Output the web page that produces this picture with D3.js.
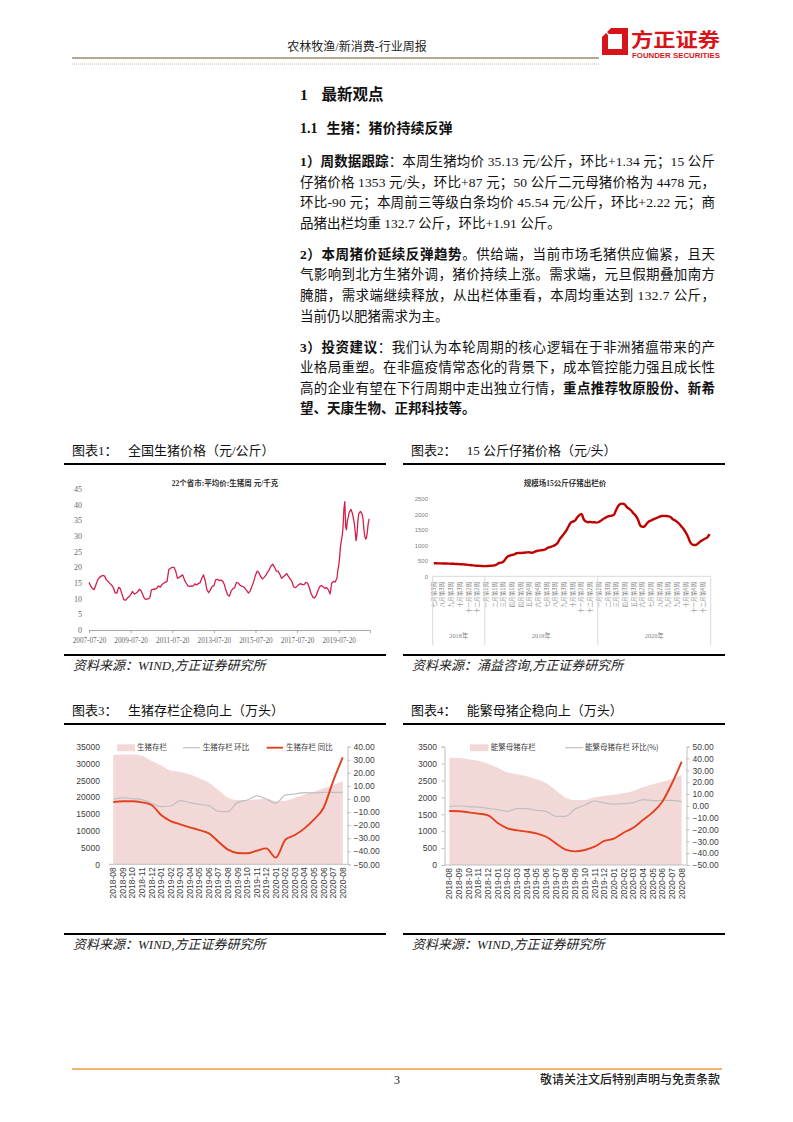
<!DOCTYPE html>
<html><head><meta charset="utf-8">
<script src="https://cdn.jsdelivr.net/npm/d3@7"></script>
<style>
body{margin:0;background:#fff}
svg{display:block}
</style></head><body>
<svg id="page" width="793" height="1122"></svg>
<script>
// ---------------- DATA ----------------
// Chart 1: 22个省市 平均价 生猪 (monthly 2007-07 .. 2019-06)
const c1Start = "2007-07-20";
const c1Monthly = [
15.2,14.0,13.2,12.9,14.5,16.0,
16.8,17.2,17.4,17.2,16.0,15.5,14.9,14.3,13.5,11.9,11.7,13.6,
13.2,11.3,9.7,9.5,10.1,10.6,11.2,12.3,11.5,11.7,12.2,13.0,
12.5,11.2,10.0,9.8,9.9,10.2,12.8,13.0,13.0,13.3,14.1,13.6,
14.5,14.9,15.3,15.5,19.2,19.7,20.0,20.0,18.7,16.5,16.8,17.2,
17.6,16.0,15.0,14.1,13.9,14.1,14.0,14.7,14.4,14.8,15.1,16.5,
17.6,15.5,12.8,11.9,12.8,13.9,14.1,16.0,16.2,15.8,15.9,15.6,
14.5,12.5,11.2,10.8,12.5,13.2,13.5,15.2,15.0,14.3,14.0,13.8,
13.3,12.5,11.8,12.5,14.0,15.5,17.5,18.8,18.3,17.0,16.3,16.8,
17.5,18.5,19.3,20.5,21.0,20.0,18.8,18.8,17.8,16.5,17.0,17.5,
18.0,17.0,16.3,15.5,13.8,13.5,14.0,14.5,14.8,14.5,14.5,15.2,
15.0,13.5,11.8,10.5,10.2,11.0,12.5,13.8,14.2,13.8,13.3,13.5,
12.8,11.5,15.0,15.5,15.3,16.5
];
// semi-monthly tail from 2019-07-05 (days 5 and 20)
const c1TailStart = "2019-07";
const c1Tail = [
19.0,20.5,23.0,26.5,28.5,30.0,33.0,38.5,41.0,33.0,32.0,35.0,
36.0,37.5,38.0,38.5,37.8,37.0,35.5,34.0,31.5,28.5,30.5,34.5,
37.0,37.5,37.8,37.5,36.8,35.5,32.0,30.0,29.0,29.5,31.5,34.0,
35.5
];
const c1XTicks = ["2007-07-20","2009-07-20","2011-07-20","2013-07-20","2015-07-20","2017-07-20","2019-07-20"];
const c1YTicks = [0,5,10,15,20,25,30,35,40,45];

// Chart 2: 规模场15公斤仔猪出栏价 (weekly)
const c2Values = [
420,420,418,418,415,415,412,410,408,405,
400,396,392,388,382,377,370,362,352,346,
342,338,333,330,330,334,340,346,355,380,
430,440,470,560,640,665,690,705,745,752,
755,760,765,775,778,760,780,810,828,840,
848,860,900,935,955,980,1020,1080,1200,1290,
1380,1480,1610,1730,1770,1800,1900,1980,2020,1850,
1770,1750,1760,1745,1750,1735,1755,1800,1855,1890,
1930,1950,1960,2000,2150,2280,2340,2350,2320,2230,
2180,2120,2030,1960,1840,1650,1600,1610,1700,1770,
1800,1840,1870,1900,1930,1950,1955,1950,1940,1915,
1850,1810,1760,1700,1610,1530,1420,1290,1110,1030,
1010,1025,1080,1140,1180,1220,1260,1360
];
const c2WeekLabels = [
'七月第3周','八月第3周','九月第3周','十月第3周','十一月第2周','十二月第2周',
'一月第1周','二月第1周','三月第1周','四月第1周','四月第5周','五月第4周','六月第4周','七月第3周','八月第3周','九月第3周','十月第3周','十一月第2周','十二月第2周',
'一月第2周','二月第3周','三月第3周','四月第3周','五月第3周','六月第2周','七月第2周','八月第2周','九月第1周','九月第5周','十月第4周','十一月第4周','十二月第4周'
];
const c2YearNames = ['2018年','2019年','2020年'];
const c2YearWeeks = [24,52,52];
const c2YTicks = [0,500,1000,1500,2000,2500];

// Chart 3: 生猪存栏
const c3Months = ['2018-08','2018-09','2018-10','2018-11','2018-12','2019-01','2019-02','2019-03','2019-04','2019-05','2019-06','2019-07','2019-08','2019-09','2019-10','2019-11','2019-12','2020-01','2020-02','2020-03','2020-04','2020-05','2020-06','2020-07','2020-08'];
const c3Stock = [32500,32700,32700,32300,30800,29500,27900,27500,26800,25600,24300,22100,19800,19100,19100,19300,19600,18800,18900,19800,20800,21600,22600,23600,24800];
const c3Mom = [-0.3,1.0,0.2,-0.5,-3.3,-5.9,-5.4,-1.3,-2.8,-4.1,-5.1,-9.5,-9.7,-2.6,-0.8,2.3,0.0,-3.3,3.0,3.8,4.8,4.6,5.1,5.1,5.1];
const c3Yoy = [-2.3,-1.8,-1.8,-2.6,-4.6,-12.3,-16.9,-19.4,-21.7,-23.8,-26.3,-32.7,-38.8,-41.3,-41.6,-39.6,-37.8,-44.9,-31.2,-27.6,-22.5,-15.6,-6.7,13.7,31.8];
const c3LeftTicks = [0,5000,10000,15000,20000,25000,30000,35000];
const c3RightTicks = [-50,-40,-30,-20,-10,0,10,20,30,40];

// Chart 4: 能繁母猪存栏
const c4Months = c3Months;
const c4Stock = [3175,3165,3125,3086,2997,2879,2741,2682,2623,2534,2415,2208,1992,1923,1923,2001,2051,2080,2120,2189,2297,2386,2465,2544,2662];
const c4Mom = [-0.7,0.1,-0.7,-1.0,-2.1,-3.2,-4.6,-2.4,-2.4,-3.8,-4.6,-8.9,-8.9,-2.7,0.7,4.1,2.4,1.5,1.8,2.7,5.2,4.4,4.6,4.6,3.5];
const c4Yoy = [-4.4,-4.6,-5.5,-6.6,-8.0,-14.5,-19.0,-20.7,-21.8,-23.2,-26.1,-31.7,-37.0,-38.5,-37.3,-34.5,-29.7,-27.7,-22.7,-18.5,-12.0,-5.5,3.5,19.0,37.3];
const c4LeftTicks = [0,500,1000,1500,2000,2500,3000,3500];
const c4RightTicks = [-50,-40,-30,-20,-10,0,10,20,30,40,50];

// ---------------- PAGE ----------------
const SERIF = '"Liberation Serif","Noto Sans CJK SC",serif';
const SANS = '"Liberation Sans","Noto Sans CJK SC",sans-serif';
const CJK = '"Noto Sans CJK SC",sans-serif';
const svg = d3.select('#page');
svg.append('rect').attr('width',793).attr('height',1122).attr('fill','#fff');

// header
svg.append('text').attr('x',357).attr('y',51).attr('text-anchor','middle')
  .style('font-family',SERIF).style('font-size','12px').attr('fill','#222').text('农林牧渔/新消费-行业周报');
svg.append('line').attr('x1',72).attr('x2',599).attr('y1',58).attr('y2',58).attr('stroke','#9c8b68').attr('stroke-width',1.6);
svg.append('line').attr('x1',72).attr('x2',599).attr('y1',64).attr('y2',64).attr('stroke','#bdb6a6').attr('stroke-width',1).attr('stroke-dasharray','1,1');
// logo
svg.append('path').attr('fill','#d7141a').attr('fill-rule','evenodd')
  .attr('d','M611,28 L628,28 L628,55 L602,55 L602,37 Z M608,34 L622,34 L622,49 L608,49 Z');
svg.append('line').attr('x1',603).attr('y1',29).attr('x2',611).attr('y2',37).attr('stroke','#fff').attr('stroke-width',1.5);
svg.append('text').attr('x',631).attr('y',46.5).attr('textLength',89).attr('lengthAdjust','spacingAndGlyphs')
  .style('font-family',CJK).style('font-size','19.5px').style('font-weight','bold').attr('fill','#d7141a').text('方正证券');
svg.append('text').attr('x',632).attr('y',57.5).attr('textLength',88).attr('lengthAdjust','spacingAndGlyphs')
  .style('font-family',SANS).style('font-size','6.5px').style('font-weight','bold').attr('fill','#d7141a').text('FOUNDER SECURITIES');

// headings
function segText(x,y,segs,size,len){
  const t = svg.append('text').attr('x',x).attr('y',y).style('font-family',SERIF).style('font-size',size+'px').attr('fill','#111');
  if(len){ t.attr('textLength',len).attr('lengthAdjust','spacing'); }
  segs.forEach(s=>{ t.append('tspan').style('font-weight',s[1]?'bold':'normal').text(s[0]); });
  return t;
}
segText(300,99.5,[['1',1]],15.5);
svg.append('text').attr('x',321.5).attr('y',99.5).style('font-family',CJK).style('font-size','15.5px').style('font-weight','bold').attr('fill','#111').text('最新观点');
segText(300,133,[['1.1',1]],14);
svg.append('text').attr('x',326.5).attr('y',133).style('font-family',CJK).style('font-size','14px').style('font-weight','bold').attr('fill','#111').text('生猪：猪价持续反弹');

const bodyLines = [
 [166,1,[['1）周数据跟踪',1],['：本周生猪均价 35.13 元/公斤，环比+1.34 元；15 公斤',0]]],
 [186.7,1,[['仔猪价格 1353 元/头，环比+87 元；50 公斤二元母猪价格为 4478 元，',0]]],
 [207.3,1,[['环比-90 元；本周前三等级白条均价 45.54 元/公斤，环比+2.22 元；商',0]]],
 [228,0,[['品猪出栏均重 132.7 公斤，环比+1.91 公斤。',0]]],
 [258.5,1,[['2）本周猪价延续反弹趋势',1],['。供给端，当前市场毛猪供应偏紧，且天',0]]],
 [279.3,1,[['气影响到北方生猪外调，猪价持续上涨。需求端，元旦假期叠加南方',0]]],
 [300,1,[['腌腊，需求端继续释放，从出栏体重看，本周均重达到 132.7 公斤，',0]]],
 [321,0,[['当前仍以肥猪需求为主。',0]]],
 [351.5,1,[['3）投资建议',1],['：我们认为本轮周期的核心逻辑在于非洲猪瘟带来的产',0]]],
 [372,1,[['业格局重塑。在非瘟疫情常态化的背景下，成本管控能力强且成长性',0]]],
 [392.5,1,[['高的企业有望在下行周期中走出独立行情，',0],['重点推荐牧原股份、新希',1]]],
 [413,0,[['望、天康生物、正邦科技等。',1]]]
];
bodyLines.forEach(l=>segText(300,l[0],l[2],13.5,l[1]?415:null));

// chart frames
function frame(x0,x1,yTitle,yTop,yBot,ySrc,num,title,titleX,src){
  svg.append('text').attr('x',x0+8).attr('y',yTitle+4.5).style('font-family',SERIF).style('font-size','13px').attr('fill','#111').text('图表'+num+'：');
  svg.append('text').attr('x',titleX).attr('y',yTitle+4.5).style('font-family',SERIF).style('font-size','13px').attr('fill','#111').text(title);
  svg.append('line').attr('x1',x0).attr('x2',x1).attr('y1',yTop).attr('y2',yTop).attr('stroke','#000').attr('stroke-width',2);
  svg.append('line').attr('x1',x0).attr('x2',x1).attr('y1',yBot).attr('y2',yBot).attr('stroke','#000').attr('stroke-width',2);
  svg.append('text').attr('x',x0+9).attr('y',ySrc+4.5).style('font-family',SERIF).style('font-size','13px').style('font-style','italic').attr('fill','#222').text(src);
}
frame(64,386,450,464,655,665,1,'全国生猪价格（元/公斤）',128,'资料来源：WIND,方正证券研究所');
frame(403,725,450,464,655,665,2,'15 公斤仔猪价格（元/头）',466.7,'资料来源：涌益咨询,方正证券研究所');
frame(64,386,710,724,934,944,3,'生猪存栏企稳向上（万头）',128,'资料来源：WIND,方正证券研究所');
frame(403,725,710,724,934,944,4,'能繁母猪企稳向上（万头）',466.7,'资料来源：WIND,方正证券研究所');

// ---------------- CHART 1 ----------------
(function(){
  const g = svg.append('g');
  const parse = d3.timeParse('%Y-%m-%d');
  const x = d3.scaleTime().domain([parse('2007-07-20'), parse('2021-01-20')]).range([89,370]);
  const y = d3.scaleLinear().domain([0,45]).range([630,489]);
  const s0 = parse(c1Start);
  const pts = c1Monthly.map((v,i)=>({d:d3.timeMonth.offset(s0,i), v}));
  const t0 = d3.timeParse('%Y-%m')(c1TailStart);
  c1Tail.forEach((v,i)=>{ const m = d3.timeMonth.offset(t0, Math.floor(i/2)); pts.push({d:new Date(m.getFullYear(), m.getMonth(), i%2?20:5), v}); });
  g.append('text').attr('x',225).attr('y',485.5).attr('text-anchor','middle').style('font-family',SERIF).style('font-size','7.5px').style('font-weight','bold').attr('fill','#333').text('22个省市:平均价:生猪周 元/千克');
  const ya = g.append('g').attr('transform','translate(89,0)').call(d3.axisLeft(y).tickValues(c1YTicks).tickFormat(d3.format('d')).tickSize(0).tickPadding(7));
  ya.select('.domain').remove();
  ya.selectAll('text').style('font-family',SERIF).style('font-size','8px').attr('fill','#666');
  const xa = g.append('g').attr('transform','translate(0,630)').call(d3.axisBottom(x).tickValues(c1XTicks.map(parse)).tickFormat(d3.timeFormat('%Y-%m-%d')).tickSize(3).tickPadding(5));
  xa.select('.domain').attr('stroke','#a6a6a6');
  xa.selectAll('.tick line').attr('stroke','#a6a6a6');
  xa.selectAll('text').style('font-family',SERIF).style('font-size','7.2px').attr('fill','#666');
  g.append('path').datum(pts).attr('fill','none').attr('stroke','#d41f4a').attr('stroke-width',1.3).attr('stroke-linejoin','round')
    .attr('d', d3.line().x(d=>x(d.d)).y(d=>y(d.v)));
})();

// ---------------- CHART 2 ----------------
(function(){
  const g = svg.append('g');
  const x = d3.scaleBand().domain(d3.range(c2Values.length)).range([432.7,710.7]);
  const y = d3.scaleLinear().domain([0,2500]).range([576.3,499]);
  g.append('text').attr('x',565).attr('y',485.5).attr('text-anchor','middle').style('font-family',SERIF).style('font-size','7.5px').style('font-weight','bold').attr('fill','#333').text('规模场15公斤仔猪出栏价');
  const ya = g.append('g').attr('transform','translate(428,0)').call(d3.axisLeft(y).tickValues(c2YTicks).tickFormat(d3.format('d')).tickSize(0).tickPadding(0));
  ya.select('.domain').remove();
  ya.selectAll('text').style('font-family',SANS).style('font-size','6px').attr('fill','#7f7f7f');
  g.append('line').attr('x1',432.7).attr('x2',710.7).attr('y1',y(0)).attr('y2',y(0)).attr('stroke','#d9d9d9');
  // week labels
  c2WeekLabels.forEach((lab,k)=>{
    const cx = x(k*4)+x.bandwidth()/2;
    g.append('text').attr('transform',`translate(${cx},582) rotate(-90)`).attr('text-anchor','end').attr('dy','0.35em')
      .style('font-family',CJK).style('font-size','5.6px').attr('fill','#7f7f7f').text(lab);
  });
  // year groups
  let acc = 0;
  const edges = [x(0)];
  c2YearNames.forEach((nm,i)=>{
    const a = x(acc); acc += c2YearWeeks[i];
    const b = acc < c2Values.length ? x(acc) : x(c2Values.length-1)+x.bandwidth();
    edges.push(b);
    g.append('text').attr('x',(a+b)/2).attr('y',638).attr('text-anchor','middle')
      .style('font-family',SERIF).style('font-size','6.3px').attr('fill','#7f7f7f').text(nm);
  });
  edges.forEach(e=>g.append('line').attr('x1',e).attr('x2',e).attr('y1',y(0)).attr('y2',645).attr('stroke','#d9d9d9'));
  g.append('path').datum(c2Values).attr('fill','none').attr('stroke','#c00000').attr('stroke-width',2.4).attr('stroke-linejoin','round')
    .attr('d', d3.line().x((d,i)=>x(i)+x.bandwidth()/2).y(d=>y(d)).curve(d3.curveMonotoneX));
})();

// ---------------- CHARTS 3 & 4 ----------------
function dualChart(o){
  const g = svg.append('g');
  const x = d3.scaleBand().domain(o.months).range([o.x0,o.x1]);
  const cx = m => x(m)+x.bandwidth()/2;
  const yL = d3.scaleLinear().domain(o.lDom).range([o.yBot,o.yTop]);
  const yR = d3.scaleLinear().domain(o.rDom).range([o.yBot,o.yTop]);
  // area
  g.append('path').datum(o.stock).attr('fill','#f2d9d8')
    .attr('d', d3.area().x((d,i)=>cx(o.months[i])).y0(yL(0)).y1(d=>yL(d)).curve(d3.curveMonotoneX));
  // axes
  const la = g.append('g').attr('transform',`translate(${o.x0},0)`).call(d3.axisLeft(yL).tickValues(o.lTicks).tickFormat(d3.format('d')).tickSize(o.leftLine?3:0).tickPadding(o.leftPad));
  if(o.leftLine){ la.select('.domain').attr('stroke','#bfbfbf'); la.selectAll('.tick line').attr('stroke','#bfbfbf'); }
  else la.select('.domain').remove();
  la.selectAll('text').style('font-family',SANS).style('font-size','8.5px').attr('fill','#404040');
  const ra = g.append('g').attr('transform',`translate(${o.x1},0)`).call(d3.axisRight(yR).tickValues(o.rTicks).tickSize(3).tickPadding(3).tickFormat(d3.format('.2f')));
  ra.select('.domain').attr('stroke','#bfbfbf');
  ra.selectAll('.tick line').attr('stroke','#bfbfbf');
  ra.selectAll('text').style('font-family',SANS).style('font-size','8.5px').attr('fill','#404040');
  g.append('line').attr('x1',o.x0).attr('x2',o.x1).attr('y1',o.yBot).attr('y2',o.yBot).attr('stroke','#bfbfbf');
  o.months.forEach(m=>{
    g.append('text').attr('transform',`translate(${cx(m)},${o.yBot+3}) rotate(-90)`).attr('text-anchor','end').attr('dy','0.35em')
      .style('font-family',SANS).style('font-size','8.5px').attr('fill','#404040').text(m);
  });
  // lines
  const ln = d3.line().x((d,i)=>cx(o.months[i])).y(d=>yR(d)).curve(d3.curveMonotoneX);
  g.append('path').datum(o.mom).attr('fill','none').attr('stroke','#bfbfbf').attr('stroke-width',1.2).attr('d',ln);
  g.append('path').datum(o.yoy).attr('fill','none').attr('stroke','#e3401e').attr('stroke-width',1.9).attr('d',ln);
  // legend
  const ly = o.yTop+1;
  o.legend.forEach(L=>{
    if(L.type==='area') g.append('rect').attr('x',L.x).attr('y',ly-3.5).attr('width',L.w).attr('height',7).attr('fill','#f2d9d8');
    else g.append('line').attr('x1',L.x).attr('x2',L.x+L.w).attr('y1',ly).attr('y2',ly).attr('stroke',L.color).attr('stroke-width',L.sw);
    g.append('text').attr('x',L.tx).attr('y',ly).attr('dy','0.35em').style('font-family',CJK).style('font-size','7.5px').attr('fill','#404040').text(L.text);
  });
}
dualChart({months:c3Months, stock:c3Stock, mom:c3Mom, yoy:c3Yoy, x0:108.5, x1:347.5, yTop:746.7, yBot:864.3,
  lDom:[0,35000], rDom:[-50,40], lTicks:c3LeftTicks, rTicks:c3RightTicks, leftLine:false, leftPad:8.5,
  legend:[{type:'area',x:117,w:18,tx:137,text:'生猪存栏'},{type:'line',x:183,w:17,tx:202.7,color:'#bfbfbf',sw:1.2,text:'生猪存栏 环比'},{type:'line',x:266.7,w:16.3,tx:286,color:'#e3401e',sw:1.9,text:'生猪存栏 同比'}]});
dualChart({months:c4Months, stock:c4Stock, mom:c4Mom, yoy:c4Yoy, x0:444.5, x1:686.5, yTop:746.7, yBot:865,
  lDom:[0,3500], rDom:[-50,50], lTicks:c4LeftTicks, rTicks:c4RightTicks, leftLine:true, leftPad:4.5,
  legend:[{type:'area',x:470,w:18.3,tx:490.7,text:'能繁母猪存栏'},{type:'line',x:565,w:18.3,tx:585,color:'#bfbfbf',sw:1.2,text:'能繁母猪存栏 环比(%)'}]});

// footer
svg.append('line').attr('x1',72).attr('x2',722).attr('y1',1069).attr('y2',1069).attr('stroke','#f39a3c').attr('stroke-width',1.3);
svg.append('text').attr('x',397).attr('y',1084).attr('text-anchor','middle').style('font-family',SERIF).style('font-size','12px').attr('fill','#222').text('3');
svg.append('text').attr('x',720).attr('y',1084).attr('text-anchor','end').style('font-family',CJK).style('font-size','12px').style('font-weight','500').attr('fill','#222').text('敬请关注文后特别声明与免责条款');
</script>
</body></html>
